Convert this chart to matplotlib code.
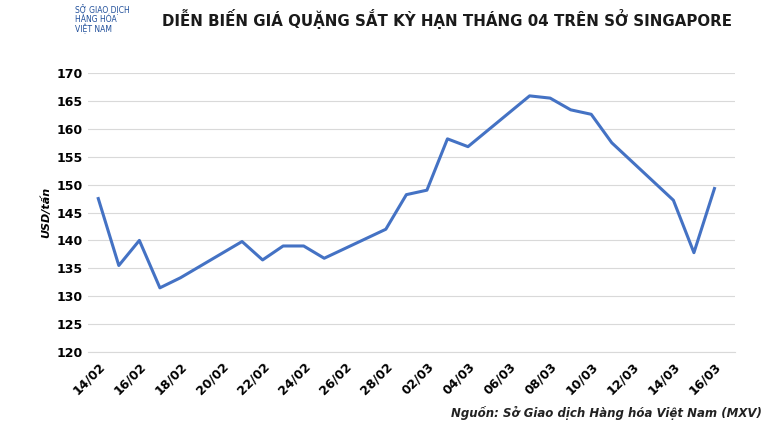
import matplotlib
matplotlib.use("Agg")
import matplotlib.pyplot as plt

days = [0,1,2,3,4,7,8,9,10,11,14,15,16,17,18,21,22,23,24,25,28,29,30]
prices = [147.5,135.5,140.0,131.5,133.3,139.8,136.5,139.0,139.0,136.8,142.0,148.2,149.0,158.2,156.8,165.9,165.5,163.4,162.6,157.5,147.2,137.8,149.3]
tick_days = [0,2,4,6,8,10,12,14,16,18,20,22,24,26,28,30]
tick_labels = ["14/02","16/02","18/02","20/02","22/02","24/02","26/02","28/02",
               "02/03","04/03","06/03","08/03","10/03","12/03","14/03","16/03"]
yticks = list(range(120,171,5))

fig = plt.figure(figsize=(7.7,4.33), dpi=100)
ax = fig.add_axes([88/770, 1-352/433, (735-88)/770, (352-73)/433])
ax.plot(days, prices, color="#4472C4", lw=2.2)
ax.set_xlim(-0.5, 31)
ax.set_ylim(120, 170)
ax.set_yticks(yticks)
ax.set_xticks(tick_days)
ax.set_xticklabels(tick_labels, rotation=45, ha="right", rotation_mode="anchor")
ax.tick_params(axis="both", length=0, labelsize=9)
ax.tick_params(axis="x", pad=6)
for lab in ax.get_xticklabels()+ax.get_yticklabels():
    lab.set_fontweight("bold")
ax.grid(axis="y", color="#d9d9d9", lw=0.8)
for s in ["top","right","left"]:
    ax.spines[s].set_visible(False)
ax.spines["bottom"].set_color("#d9d9d9")
ax.set_ylabel("USD/tấn", fontsize=8, fontweight="bold", style="italic")
fig.text(0.58, 0.955, "DIỄN BIẾN GIÁ QUẶNG SẮT KỲ HẠN THÁNG 04 TRÊN SỞ SINGAPORE",
         ha="center", va="center", fontsize=10.8, fontweight="bold", color="#1a1a1a")
fig.text(0.097, 0.955, "SỞ GIAO DỊCH\nHÀNG HÓA\nVIỆT NAM", ha="left", va="center",
         fontsize=5.5, color="#1f4e9a", linespacing=1.0)
fig.text(0.99, 0.03, "Nguồn: Sở Giao dịch Hàng hóa Việt Nam (MXV)", ha="right",
         va="bottom", fontsize=8.5, fontweight="bold", style="italic", color="#222222")
fig.savefig("out.png", dpi=100)
